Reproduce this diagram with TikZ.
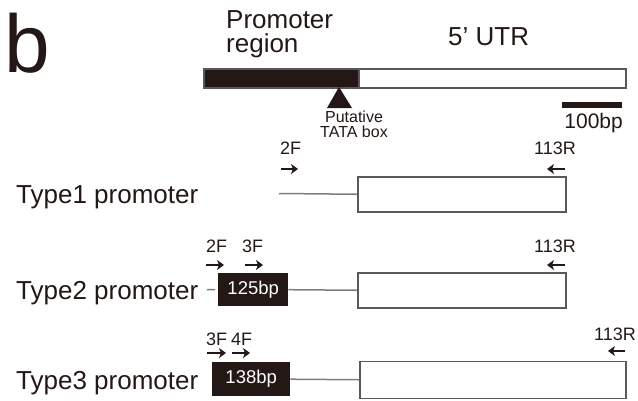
\documentclass[tikz,border=0pt]{standalone}
\usepackage{fontspec}
\setmainfont{Liberation Sans}
\usetikzlibrary{arrows.meta, positioning}
\definecolor{ink}{RGB}{35,24,21}
\definecolor{boxgray}{RGB}{90,88,88}
\definecolor{linegray}{RGB}{125,125,125}
\tikzset{
  utrbox/.style={draw=boxgray, line width=1.5pt, fill=white, anchor=north west, inner sep=0pt},
  insbox/.style={fill=ink, text=white, anchor=north west, inner sep=0pt,
      font=\fontsize{18.5}{18.5}\selectfont},
  link/.style={draw=linegray, line width=1.5pt},
  primer/.style={draw=ink, line width=1.6pt, -{Stealth[length=7pt, width=10pt, inset=2pt]}},
  plabel/.style={text=ink, inner sep=0pt, font=\fontsize{18}{18}\selectfont},
  rowlabel/.style={text=ink, inner sep=0pt, anchor=base west, font=\fontsize{26}{26}\selectfont},
  biglabel/.style={text=ink, inner sep=0pt, font=\fontsize{26}{24}\selectfont},
}

\begin{document}
\begin{tikzpicture}[x=1pt, y=-1pt]
  \useasboundingbox (0,0) rectangle (638,400);
  % panel letter and gene map
  \node[text=ink, inner sep=0pt, anchor=base west, font=\fontsize{82}{82}\selectfont] (panel) at (4,72) {b};
  \node[biglabel, anchor=north west, align=left] (promtxt) at (226,10) {Promoter\\region};
  \node[biglabel, anchor=base west] (utrtxt) at (448,45) {5’ UTR};
  \node[fill=ink, draw=boxgray, line width=1.5pt, anchor=north west, inner sep=0pt,
        minimum width=155pt, minimum height=19pt] (prom) at (203,68) {};
  \node[utrbox, minimum width=267pt, minimum height=19pt] (utr) at (358,68) {};
  \fill[ink] (339,87) -- (327,108) -- (352,108) -- cycle;
  \node[text=ink, inner sep=0pt, anchor=north, align=center, font=\fontsize{16}{15}\selectfont] (tata) at (354,111) {Putative\\TATA box};
  \node[fill=ink, anchor=north east, inner sep=0pt, minimum width=60pt, minimum height=5.5pt] (bar) at (622,102) {};
  \node[text=ink, inner sep=0pt, anchor=base east, font=\fontsize{21}{21}\selectfont] (bartxt) at (623,128) {100bp};
  % Type 1
  \node[rowlabel] (type1) at (16,203) {Type1 promoter};
  \node[utrbox, minimum width=208pt, minimum height=35pt] (utr1) at (357,176) {};
  \coordinate (s1) at (279,193.5);
  \draw[link] (s1) -- (utr1.west);
  \node[plabel, anchor=base west] (f2a) at (280,154) {2F};
  \node[plabel, anchor=base east] (r1) at (576,154) {113R};
  \coordinate (f2a1) at (281,169); \coordinate (f2a2) at (298,169);
  \coordinate (r1a1) at (565,169); \coordinate (r1a2) at (547,169);
  \draw[primer] (f2a1) -- (f2a2);
  \draw[primer] (r1a1) -- (r1a2);
  % Type 2
  \node[rowlabel] (type2) at (16,299) {Type2 promoter};
  \node[insbox, minimum width=70pt, minimum height=33pt] (ins2) at (218,273) {125bp};
  \node[utrbox, minimum width=208pt, minimum height=35pt] (utr2) at (357,272) {};
  \coordinate (s2) at (207,289.5);
  \draw[link, shorten >=3pt] (s2) -- (ins2.west);
  \draw[link] (ins2.east) -- (utr2.west);
  \node[plabel, anchor=base west] (f2b) at (206,252) {2F};
  \node[plabel, anchor=base west] (f3b) at (242,252) {3F};
  \node[plabel, anchor=base east] (r2) at (576,252) {113R};
  \coordinate (f2b1) at (206,265); \coordinate (f2b2) at (224,265);
  \coordinate (f3b1) at (245,265); \coordinate (f3b2) at (263,265);
  \coordinate (r2a1) at (565,265); \coordinate (r2a2) at (547,265);
  \draw[primer] (f2b1) -- (f2b2);
  \draw[primer] (f3b1) -- (f3b2);
  \draw[primer] (r2a1) -- (r2a2);
  % Type 3
  \node[rowlabel] (type3) at (16,389) {Type3 promoter};
  \node[insbox, minimum width=78pt, minimum height=34pt] (ins3) at (212,362) {138bp};
  \node[utrbox, minimum width=266pt, minimum height=37pt] (utr3) at (359,360.5) {};
  \draw[link] (ins3.east) -- (utr3.west);
  \node[plabel, anchor=base west] (f3c) at (206,345) {3F};
  \node[plabel, anchor=base west] (f4c) at (231,345) {4F};
  \node[plabel, anchor=base east] (r3) at (636,340) {113R};
  \coordinate (f3c1) at (207,353); \coordinate (f3c2) at (226,353);
  \coordinate (f4c1) at (232,353); \coordinate (f4c2) at (250,353);
  \coordinate (r3a1) at (625,351); \coordinate (r3a2) at (608,351);
  \draw[primer] (f3c1) -- (f3c2);
  \draw[primer] (f4c1) -- (f4c2);
  \draw[primer] (r3a1) -- (r3a2);
\end{tikzpicture}
\end{document}
